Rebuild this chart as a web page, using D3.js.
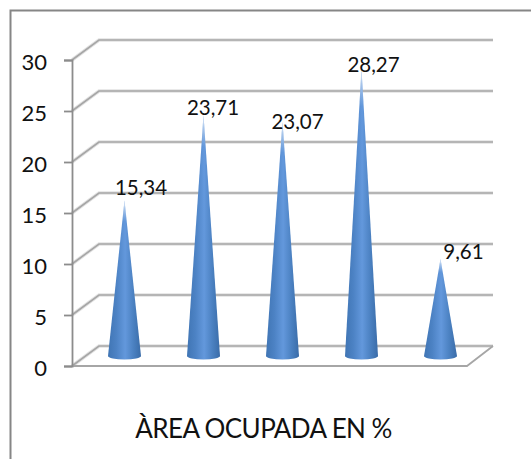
<!DOCTYPE html>
<html>
<head>
<meta charset="utf-8">
<script src="https://cdn.jsdelivr.net/npm/d3@7/dist/d3.min.js"></script>
<style>
html,body{margin:0;padding:0;background:#fff}
svg{display:block}
text{font-family:Lato,"Open Sans",sans-serif;fill:#111}
</style>
</head>
<body>
<svg id="chart" width="531" height="459"></svg>
<script>
const categories = ["A", "B", "C", "D", "E"];
const values = [15.34, 23.71, 23.07, 28.27, 9.61];
const valueLabels = ["15,34", "23,71", "23,07", "28,27", "9,61"];
const yTicks = [0, 5, 10, 15, 20, 25, 30];
const chartTitle = "ÀREA OCUPADA EN %";

const svg = d3.select("#chart");
const width = 531, height = 459;

// Front plane of the 3D box and the offset of its back wall
const y = d3.scaleLinear().domain([0, 30]).range([366, 60]);
const depthX = 27, depthY = -20;
const axisX = 72, floorRight = 467;
const x = d3.scaleBand().domain(categories).range([85, 480]);
const baseLift = 10, baseRx = 16.5, baseRy = 3.5;
const gridColor = "#a6a6a6", gridHalo = "#e2e2e2";

// Labels were placed by hand, each with its own shift from its cone's tip
const labelShiftX = [16.5, 9.5, 15, 12, 23];
const labelShiftY = [-4.5, 1, 8, 4, 1];

const defs = svg.append("defs");
const shade = defs.append("linearGradient").attr("id", "coneShade")
  .attr("x1", 0).attr("x2", 1).attr("y1", 0).attr("y2", 0);
[[0, "#4075b4"], [0.25, "#4c82c4"], [0.52, "#6398dc"], [0.78, "#4a80c0"], [1, "#3a6ca8"]]
  .forEach(([o, c]) => shade.append("stop").attr("offset", o).attr("stop-color", c));

const fade = defs.append("linearGradient").attr("id", "tipFade")
  .attr("x1", 0).attr("x2", 0).attr("y1", 0).attr("y2", 1);
[[0, "#fff", 0.85], [0.05, "#fff", 0.45], [0.13, "#fff", 0]]
  .forEach(([o, c, a]) => fade.append("stop").attr("offset", o).attr("stop-color", c).attr("stop-opacity", a));

// Outer frame, open on the right and at the bottom
svg.append("path")
  .attr("d", `M10.5,${height} V10.5 H${width}`)
  .attr("fill", "none").attr("stroke", "#868686").attr("stroke-width", 2);

const grid = svg.append("g").attr("fill", "none");

// Back wall gridlines with their slanted side wall segments
function gridPath(v) {
  return `M${axisX},${y(v)} L${axisX + depthX},${y(v) + depthY} H${floorRight + depthX - 1}`;
}
grid.selectAll("path.halo").data(yTicks).join("path").attr("class", "halo")
  .attr("d", gridPath).attr("stroke", gridHalo).attr("stroke-width", 3.5);
grid.selectAll("path.line").data(yTicks).join("path").attr("class", "line")
  .attr("d", gridPath).attr("stroke", gridColor).attr("stroke-width", 1.6);

// Floor front edge and slanted right edge
grid.append("path")
  .attr("d", `M${axisX},${y(0)} H${floorRight} L${floorRight + depthX - 1},${y(0) + depthY}`)
  .attr("stroke", gridColor).attr("stroke-width", 1.8);

// Value axis
const axis = d3.axisLeft(y).tickValues(yTicks).tickSize(8).tickPadding(17).tickFormat(d3.format("d"));
const axisG = svg.append("g").attr("transform", `translate(${axisX},0)`).call(axis);
axisG.selectAll("path,line").attr("stroke", "#8c8c8c").attr("stroke-width", 1.8);
axisG.selectAll("text").attr("font-size", 22).attr("fill", "#111").attr("dy", "0.42em")
  .style("font-family", "Lato,'Open Sans',sans-serif");

// Cones
const cones = svg.selectAll("g.cone").data(categories).join("g").attr("class", "cone");
const cx = d => x(d) + x.bandwidth() / 2;
const baseY = y(0) - baseLift;
const tipY = i => baseY - (y(0) - y(values[i]));
function conePath(d, i) {
  const c = cx(d), top = tipY(i) + 1;
  return `M${c},${top} L${c + baseRx},${baseY} A${baseRx},${baseRy} 0 0 1 ${c - baseRx},${baseY} Z`;
}
cones.append("path").attr("d", conePath).attr("fill", "url(#coneShade)");
cones.append("path").attr("d", conePath).attr("fill", "url(#tipFade)");

// Value labels
svg.selectAll("text.value").data(categories).join("text").attr("class", "value")
  .attr("x", (d, i) => cx(d) + labelShiftX[i])
  .attr("y", (d, i) => tipY(i) + labelShiftY[i])
  .attr("text-anchor", "middle").attr("font-size", 20.5)
  .text((d, i) => valueLabels[i]);

// Category caption
svg.append("text").attr("x", 263.5).attr("y", 438)
  .attr("text-anchor", "middle").attr("font-size", 26).attr("letter-spacing", -0.6)
  .text(chartTitle);
</script>
</body>
</html>
